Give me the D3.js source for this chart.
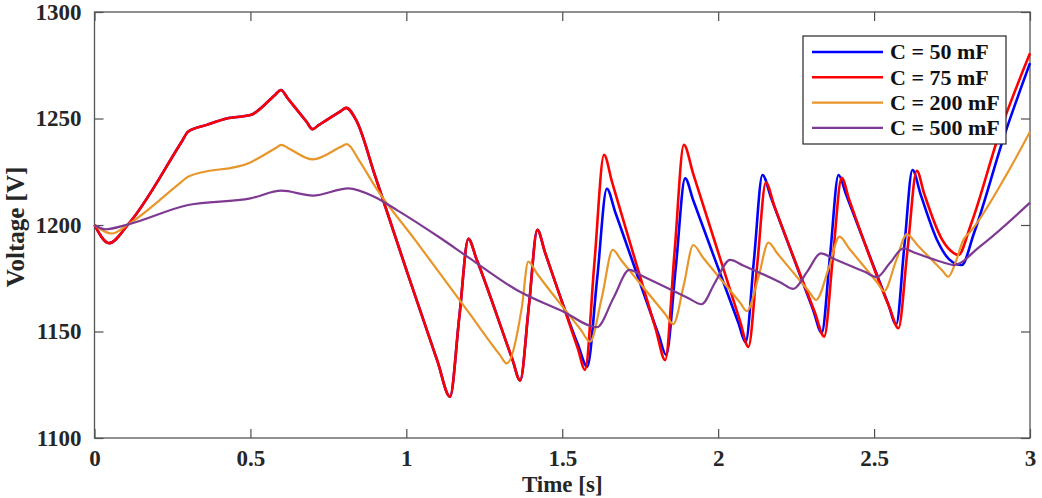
<!DOCTYPE html>
<html>
<head>
<meta charset="utf-8">
<script src="https://cdn.jsdelivr.net/npm/d3@7/dist/d3.min.js"></script>
<style>
    body { margin: 0; background: #fff; }
    #chart { width: 1042px; height: 498px; }
    .axis text { font-family: "Liberation Serif", "Times New Roman", serif; font-weight: bold; font-size: 23px; fill: #262626; }
    .axis path { display: none; }
    .axis line { stroke: #4d4d4d; stroke-width: 1.2px; }
    .axis-title { font-family: "Liberation Serif", "Times New Roman", serif; font-weight: bold; font-size: 25px; fill: #262626; }
    .x-title { font-size: 23px; }
    .legend text { font-family: "Liberation Serif", "Times New Roman", serif; font-weight: bold; font-size: 22px; fill: #111; }
</style>
</head>
<body>
<div id="chart"></div>
<script>

// ---- data: [time (s), voltage (V)] ----
let seriesC50 = [
    [0,1200],[0.047,1191.5],[0.108,1200.3],[0.28,1239.2],[0.3,1243.8],[0.36,1247],[0.424,1250],[0.5,1251.6],
    [0.58,1261.2],[0.598,1263.4],[0.62,1259.4],[0.68,1248.5],[0.699,1245],[0.72,1247],[0.79,1253.5],[0.807,1255],
    [0.84,1249],[0.9,1223],[1.0,1179],[1.1,1136],[1.14,1119.4],
    [1.17,1157],[1.199,1193.5],[1.225,1184],[1.34,1137],[1.365,1127],[1.393,1162],[1.42,1197.7],[1.445,1187],
    [1.55,1144],[1.58,1133.5],[1.612,1175],[1.643,1217],[1.67,1206],[1.81,1148],[1.833,1139],[1.864,1180],
    [1.894,1221.9],[1.92,1211.6],[2.065,1154],[2.088,1145],[2.115,1184],[2.142,1223.5],[2.17,1212.6],[2.305,1160],
    [2.332,1149.4],[2.359,1186],[2.386,1223.5],[2.41,1214.4],[2.545,1163],[2.571,1153.4],[2.597,1190],[2.623,1225.8],
    [2.65,1214],[2.705,1192],[2.74,1184],[2.781,1181.2],[2.82,1196],[2.92,1243],[3.0,1276]
];

let seriesC75 = [
    [0,1200],[0.047,1191.5],[0.108,1200.3],[0.28,1239.2],[0.3,1243.8],[0.36,1247],[0.424,1250],[0.5,1251.6],
    [0.58,1261.2],[0.598,1263.4],[0.62,1259.4],[0.68,1248.5],[0.699,1245],[0.72,1247],[0.79,1253.5],[0.807,1255],
    [0.84,1249],[0.9,1223],[1.0,1179],[1.1,1136],[1.14,1119.4],
    [1.17,1157],[1.199,1193.5],[1.225,1184],[1.34,1137],[1.365,1127],[1.393,1162],[1.42,1197.7],[1.445,1187],
    [1.55,1142],[1.573,1132],[1.603,1182],[1.634,1232.9],[1.66,1220],[1.8,1151],[1.83,1136.6],[1.86,1187],
    [1.89,1237.6],[1.92,1224],[2.07,1155],[2.097,1142.8],[2.125,1181],[2.153,1219.9],[2.18,1209],[2.31,1159],
    [2.34,1147.6],[2.368,1185],[2.396,1222.2],[2.42,1212],[2.55,1161],[2.578,1151.5],[2.607,1188],[2.637,1225.5],
    [2.66,1215],[2.715,1194],[2.745,1188],[2.77,1185.9],[2.81,1200],[2.904,1244],[3.0,1280.6]
];

let seriesC200 = [
    [0,1200],[0.055,1196],[0.108,1200.3],[0.28,1220.4],[0.3,1222.7],[0.5,1229.4],[0.58,1236],[0.6,1237.6],
    [0.62,1236.2],[0.7,1230.8],[0.79,1236.7],[0.809,1238],[0.85,1230],[0.9,1218],[1.028,1193],[1.2,1159],[1.3,1139],[1.322,1135],[1.37,1161],
    [1.391,1182.8],[1.42,1177],[1.56,1150.7],[1.589,1145.2],[1.627,1166],[1.662,1188.3],[1.69,1183.3],[1.83,1158.2],
    [1.856,1153.5],[1.89,1172],[1.92,1190.6],[1.95,1185],[2.07,1163.6],[2.092,1159.6],[2.13,1176],[2.161,1191.7],
    [2.19,1186.6],[2.29,1169],[2.314,1164.8],[2.355,1180],[2.389,1194.5],[2.42,1189],[2.51,1173],[2.532,1169],
    [2.57,1183],[2.605,1195.6],[2.64,1190.4],[2.72,1178.4],[2.738,1175.7],[2.76,1182],[2.786,1193],[2.81,1197],
    [2.926,1224],[3.0,1243.8]
];

let seriesC500 = [
    [0,1200],[0.034,1198],[0.108,1200.3],[0.3,1209.4],[0.5,1212.5],[0.6,1216.1],[0.7,1213.8],
    [0.814,1217.2],[0.9,1213],[0.97,1207],[1.108,1194],[1.2,1184.7],[1.354,1169.5],[1.504,1159.3],[1.611,1152],
    [1.665,1166],[1.715,1178.9],[1.76,1175.8],[1.9,1166],[1.947,1162.8],[1.99,1173],[2.038,1183.6],[2.08,1181],
    [2.2,1173],[2.241,1170],[2.285,1178],[2.329,1186.7],[2.37,1184.2],[2.47,1178],[2.509,1175.5],[2.55,1182],
    [2.594,1189],[2.63,1187],[2.72,1182.5],[2.755,1181.2],[2.84,1190],[3.0,1210.5]
];

let legendLabels = ["C = 50 mF", "C = 75 mF", "C = 200 mF", "C = 500 mF"];
let seriesColors = ["#0000ff", "#ff0000", "#e8962a", "#7e3a92"];
let xTicks = [0, 0.5, 1, 1.5, 2, 2.5, 3];
let yTicks = [1100, 1150, 1200, 1250, 1300];


class VoltageVis {

    constructor(parentElement, series) {
        this.parentElement = parentElement;
        this.series = series;
        this.initVis();
    }

    initVis() {
        let vis = this;

        // margin conventions
        vis.margin = {top: 12, right: 12, bottom: 60, left: 94.5};
        vis.width = 1042 - vis.margin.left - vis.margin.right;
        vis.height = 498 - vis.margin.top - vis.margin.bottom;

        vis.svg = d3.select("#" + vis.parentElement).append("svg")
            .attr("width", 1042)
            .attr("height", 498)
            .append("g")
            .attr("transform", "translate(" + vis.margin.left + "," + vis.margin.top + ")");

        // scales
        vis.x = d3.scaleLinear().domain([0, 3]).range([0, vis.width]);
        vis.y = d3.scaleLinear().domain([1100, 1300]).range([vis.height, 0]);

        // axes, ticks pointing inward
        vis.svg.append("g")
            .attr("class", "x-axis axis")
            .attr("transform", "translate(0," + vis.height + ")")
            .call(d3.axisBottom(vis.x).tickValues(xTicks).tickFormat(d3.format("")).tickSizeInner(-9).tickSizeOuter(0).tickPadding(12));

        vis.svg.append("g")
            .attr("class", "x-axis-top axis")
            .call(d3.axisTop(vis.x).tickValues(xTicks).tickFormat("").tickSizeInner(-9).tickSizeOuter(0));

        vis.svg.append("g")
            .attr("class", "y-axis axis")
            .call(d3.axisLeft(vis.y).tickValues(yTicks).tickFormat(d3.format("d")).tickSizeInner(-9).tickSizeOuter(0).tickPadding(13));

        vis.svg.append("g")
            .attr("class", "y-axis-right axis")
            .attr("transform", "translate(" + vis.width + ",0)")
            .call(d3.axisRight(vis.y).tickValues(yTicks).tickFormat("").tickSizeInner(-9).tickSizeOuter(0));

        // frame
        vis.svg.append("rect")
            .attr("width", vis.width)
            .attr("height", vis.height)
            .attr("fill", "none")
            .attr("stroke", "#555")
            .attr("stroke-width", 1.3);

        // axis titles
        vis.svg.append("text")
            .attr("class", "axis-title x-title")
            .attr("text-anchor", "middle")
            .attr("x", vis.width / 2)
            .attr("y", vis.height + 54)
            .text("Time [s]");

        vis.svg.append("text")
            .attr("class", "axis-title")
            .attr("text-anchor", "middle")
            .attr("transform", "translate(" + (-71) + "," + (vis.height / 2 + 2) + ") rotate(-90)")
            .text("Voltage [V]");

        vis.updateVis();
    }

    updateVis() {
        let vis = this;

        vis.line = d3.line()
            .x(d => vis.x(d[0]))
            .y(d => vis.y(d[1]))
            .curve(d3.curveMonotoneX);

        vis.svg.selectAll(".series")
            .data(vis.series)
            .enter().append("path")
            .attr("class", "series")
            .attr("d", d => vis.line(d))
            .attr("fill", "none")
            .attr("stroke", (d, i) => seriesColors[i])
            .attr("stroke-width", (d, i) => i < 2 ? 2.6 : 2.2)
            .attr("stroke-linejoin", "round");

        // legend
        let legend = vis.svg.append("g")
            .attr("class", "legend")
            .attr("transform", "translate(" + (803 - vis.margin.left) + "," + (36 - vis.margin.top) + ")");

        legend.append("rect")
            .attr("width", 203)
            .attr("height", 108)
            .attr("fill", "#fff")
            .attr("stroke", "#262626")
            .attr("stroke-width", 1.2);

        let rows = legend.selectAll(".legend-row")
            .data(legendLabels)
            .enter().append("g")
            .attr("class", "legend-row")
            .attr("transform", (d, i) => "translate(0," + (16 + i * 25.3) + ")");

        rows.append("line")
            .attr("x1", 9).attr("x2", 80)
            .attr("stroke", (d, i) => seriesColors[i])
            .attr("stroke-width", (d, i) => i < 2 ? 2.6 : 2.2);

        rows.append("text")
            .attr("x", 87)
            .attr("dy", "0.34em")
            .text(d => d);
    }
}

let myVoltageVis = new VoltageVis("chart", [seriesC50, seriesC75, seriesC200, seriesC500]);

</script>
</body>
</html>
